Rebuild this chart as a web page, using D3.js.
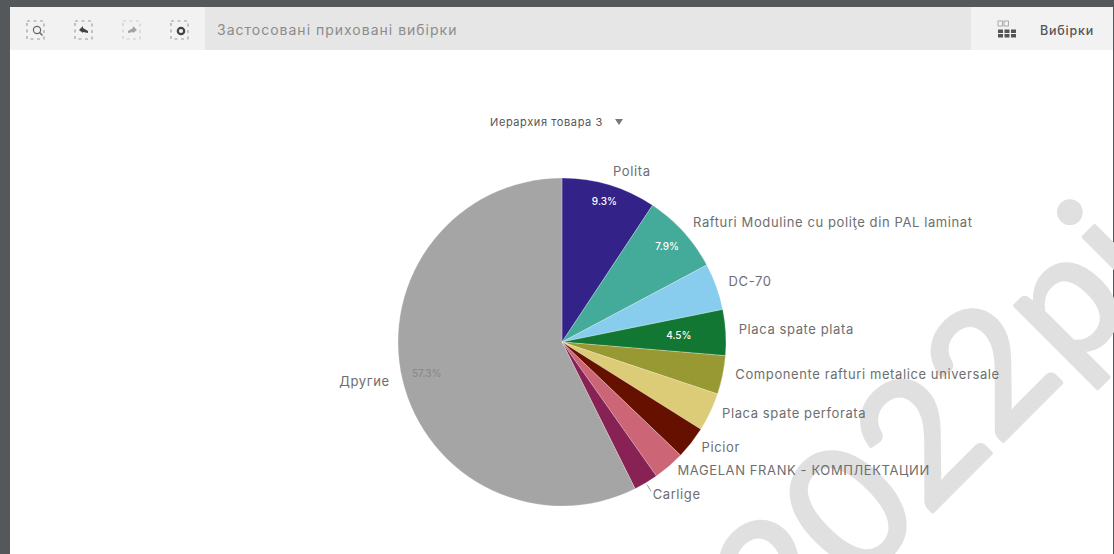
<!DOCTYPE html>
<html>
<head>
<meta charset="utf-8">
<script src="https://cdn.jsdelivr.net/npm/d3@7"></script>
<style>
  html, body { margin: 0; padding: 0; background: #54585b; overflow: hidden; }
  svg { display: block; }
  text { font-family: Inter, Roboto, sans-serif; }
</style>
</head>
<body>
<svg id="sheet" width="1114" height="554"></svg>
<script>
// Share of sales by product group (percent)
const categories = ["Polita", "Rafturi Moduline cu poliţe din PAL laminat", "DC-70", "Placa spate plata",
  "Componente rafturi metalice universale", "Placa spate perforata", "Picior",
  "MAGELAN FRANK - КОМПЛЕКТАЦИИ", "Carlige", "Другие"];
const shares = [9.3, 7.9, 4.6, 4.5, 3.8, 3.8, 3.2, 3.1, 2.4, 57.3];
const colours = ["#332288", "#44aa99", "#88ccee", "#117733", "#999933", "#ddcc77", "#661100", "#cc6677", "#882255", "#a5a5a5"];

// Slices wide enough to carry their percentage, with the radius of that label
const valueLabels = new Map([["Polita", 147], ["Rafturi Moduline cu poliţe din PAL laminat", 142],
  ["Placa spate plata", 117], ["Другие", 139]]);

// Vertical nudges that keep the tightly packed lower labels from colliding
const labelNudges = new Map([["Placa spate plata", -2], ["Componente rafturi metalice universale", -3],
  ["Placa spate perforata", -4], ["Picior", -3], ["MAGELAN FRANK - КОМПЛЕКТАЦИИ", -5], ["Carlige", 1]]);

const fieldTitle = "Иерархия товара 3";
const toolbarText = "Застосовані приховані вибірки";
const selectionsText = "Вибірки";

const svg = d3.select("#sheet");

// Sheet and toolbar backgrounds
svg.append("rect").attr("x", 10).attr("y", 7).attr("width", 1103).attr("height", 547).attr("fill", "#fff");
svg.append("rect").attr("x", 10).attr("y", 7).attr("width", 1103).attr("height", 43).attr("fill", "#f2f2f2");
svg.append("rect").attr("x", 205).attr("y", 7).attr("width", 766).attr("height", 43).attr("fill", "#e6e6e6");

// Toolbar: four dashed selection buttons with a small glyph each
const buttons = svg.append("g");
[36, 84, 132, 180].forEach((x, i) => {
  const g = buttons.append("g").attr("transform", `translate(${x},30)`).attr("opacity", i === 2 ? 0.45 : 1);
  g.append("rect").attr("x", -9).attr("y", -9).attr("width", 17).attr("height", 18)
    .attr("fill", "none").attr("stroke", "#9a9a9a").attr("stroke-width", 1.1).attr("stroke-dasharray", "3 3.5");
  if (i === 0) {
    g.append("circle").attr("cx", 1).attr("cy", 0).attr("r", 3.6).attr("fill", "none").attr("stroke", "#666").attr("stroke-width", 1.2);
    g.append("line").attr("x1", 3.6).attr("y1", 2.6).attr("x2", 6.5).attr("y2", 5.5).attr("stroke", "#666").attr("stroke-width", 1.4);
  } else if (i === 1) {
    g.append("path").attr("d", "M-5,0 L-1,-4 L-1,-2 L4,1 L4,3 L-1,2 L-1,3 Z").attr("fill", "#444");
  } else if (i === 2) {
    g.append("path").attr("d", "M5,0 L1,-4 L1,-2 L-4,1 L-4,3 L1,2 L1,3 Z").attr("fill", "#444");
  } else {
    g.append("circle").attr("cx", 1).attr("cy", 1).attr("r", 3.2).attr("fill", "none").attr("stroke", "#444").attr("stroke-width", 2.2);
  }
});
svg.append("text").attr("x", 217).attr("y", 35).attr("font-size", 14).attr("letter-spacing", 1)
  .attr("fill", "#8c8c8c").text(toolbarText);

// Selections icon: a field header above three value cells
const selIcon = svg.append("g").attr("transform", "translate(998,21)");
[0, 6].forEach(x => selIcon.append("rect").attr("x", x).attr("y", 0).attr("width", 4.5).attr("height", 5)
  .attr("fill", "none").attr("stroke", "#999").attr("stroke-width", 0.8));
[0, 6.5, 13].forEach(x => {
  selIcon.append("rect").attr("x", x).attr("y", 8.5).attr("width", 5).attr("height", 3.5).attr("fill", "#555");
  selIcon.append("rect").attr("x", x).attr("y", 13).attr("width", 5).attr("height", 3.5).attr("fill", "#555");
});
svg.append("text").attr("x", 1040).attr("y", 35).attr("font-size", 12.5).attr("font-weight", 500)
  .attr("letter-spacing", 0.8).attr("fill", "#555").text(selectionsText);

// Stock watermark running diagonally behind the chart
svg.append("text").attr("transform", "translate(786,658) rotate(-45)")
  .attr("font-size", 172).attr("fill", "#e0e0e0").attr("stroke", "#e0e0e0").attr("stroke-width", 4)
  .attr("stroke-linejoin", "round").style("font-family", "Lato, sans-serif").text("2022pi");

// Dimension title above the pie
svg.append("text").attr("x", 490).attr("y", 126).attr("font-size", 11).attr("letter-spacing", 0.6)
  .attr("fill", "#555").text(fieldTitle);
svg.append("path").attr("d", "M615,119 L623,119 L619,125 Z").attr("fill", "#777");

// Pie
const cx = 562, cy = 342, radius = 164, labelRadius = 177;
const pie = d3.pie().value((d, i) => shares[i]).sort(null)(categories);
const arc = d3.arc().innerRadius(0).outerRadius(radius);
const colour = d3.scaleOrdinal(categories, colours);
const chart = svg.append("g").attr("transform", `translate(${cx},${cy})`);

chart.selectAll("path.slice").data(pie).join("path")
  .attr("class", "slice").attr("d", arc).attr("fill", d => colour(d.data))
  .attr("stroke", "#fff").attr("stroke-width", 0.25);

const midAngle = d => (d.startAngle + d.endAngle) / 2;
const polar = (d, r) => d3.pointRadial(midAngle(d), r);

// Category labels sit just outside the rim, on each slice's mid angle
chart.selectAll("text.category").data(pie).join("text")
  .attr("class", "category")
  .attr("x", d => polar(d, labelRadius)[0])
  .attr("y", d => polar(d, labelRadius)[1] + (labelNudges.get(d.data) || 0))
  .attr("dy", "0.3em")
  .attr("text-anchor", d => midAngle(d) > Math.PI ? "end" : "start")
  .attr("font-size", 13).attr("letter-spacing", 0.6).attr("fill", "#6e6e6e")
  .text(d => d.data);

// Percentages inside the larger slices
chart.selectAll("text.share").data(pie.filter(d => valueLabels.has(d.data))).join("text")
  .attr("class", "share")
  .attr("x", d => polar(d, valueLabels.get(d.data))[0])
  .attr("y", d => polar(d, valueLabels.get(d.data))[1])
  .attr("dy", "0.35em").attr("text-anchor", "middle")
  .attr("font-size", 10).attr("font-weight", 500)
  .attr("fill", d => d.data === "Другие" ? "#8a8a8a" : "#fff")
  .text(d => shares[categories.indexOf(d.data)].toFixed(1) + "%");

// Short leader for the narrowest slice
const carlige = pie.find(d => d.data === "Carlige");
const leader = d3.line().curve(d3.curveBasis);
chart.append("path")
  .attr("d", leader([polar(carlige, radius + 2), polar(carlige, radius + 8), polar(carlige, radius + 10)]))
  .attr("fill", "none").attr("stroke", "#777").attr("stroke-width", 0.8);
</script>
</body>
</html>
